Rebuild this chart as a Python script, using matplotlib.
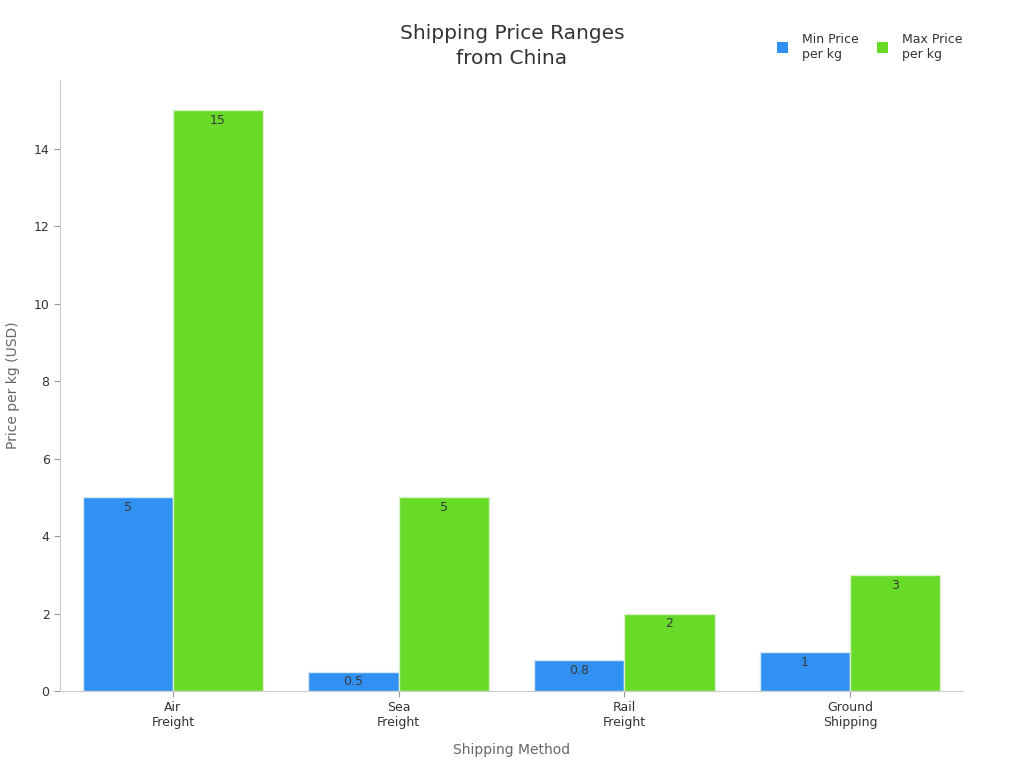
import matplotlib.pyplot as plt
import numpy as np

methods = ["Air\nFreight", "Sea\nFreight", "Rail\nFreight", "Ground\nShipping"]
min_price = [5, 0.5, 0.8, 1]
max_price = [15, 5, 2, 3]
min_labels = ["5", "0.5", "0.8", "1"]
max_labels = ["15", "5", "2", "3"]

fig = plt.figure(figsize=(10.24, 7.68), dpi=100)
ax = fig.add_axes([0.0586, 0.1003, 0.8818, 0.7955])

x = np.arange(len(methods))
w = 0.4
b1 = ax.bar(x - w / 2, min_price, w, color="#3091f2", edgecolor="#d8e8f8", linewidth=1,
            label="Min Price\nper kg")
b2 = ax.bar(x + w / 2, max_price, w, color="#67db28", edgecolor="#d8f0c8", linewidth=1,
            label="Max Price\nper kg")

# value labels just inside the top of each bar
for bars, labs in ((b1, min_labels), (b2, max_labels)):
    for r, t in zip(bars, labs):
        ax.text(r.get_x() + r.get_width() / 2, r.get_height() - 0.1, t,
                ha="center", va="top", fontsize=9, color="#3a3a3a")

ax.set_xlim(-0.5, 3.5)
ax.set_ylim(0, 15.78)
ax.set_yticks([0, 2, 4, 6, 8, 10, 12, 14])
ax.set_xticks(x)
ax.set_xticklabels(methods, fontsize=9, color="#333333")
ax.tick_params(axis="y", labelsize=9, colors="#333333")
ax.tick_params(axis="both", color="#999999", length=4)

for s in ("top", "right"):
    ax.spines[s].set_visible(False)
for s in ("left", "bottom"):
    ax.spines[s].set_color("#cccccc")

ax.set_xlabel("Shipping Method", fontsize=10, color="#666666", labelpad=10)
ax.set_ylabel("Price per kg (USD)", fontsize=10, color="#666666", labelpad=10)

fig.text(0.5, 0.94, "Shipping Price Ranges\nfrom China", ha="center", va="center",
         fontsize=14.5, color="#333333", linespacing=1.45)

leg = fig.legend(handles=[b1, b2], loc="upper right", bbox_to_anchor=(0.951, 0.972),
                 ncol=2, frameon=False, fontsize=9, handlelength=0.9, handleheight=0.9,
                 columnspacing=1.5, handletextpad=1.1)
for t in leg.get_texts():
    t.set_color("#333333")
for h in leg.legend_handles:
    h.set_edgecolor("none")

fig.savefig("out.png", dpi=100)
